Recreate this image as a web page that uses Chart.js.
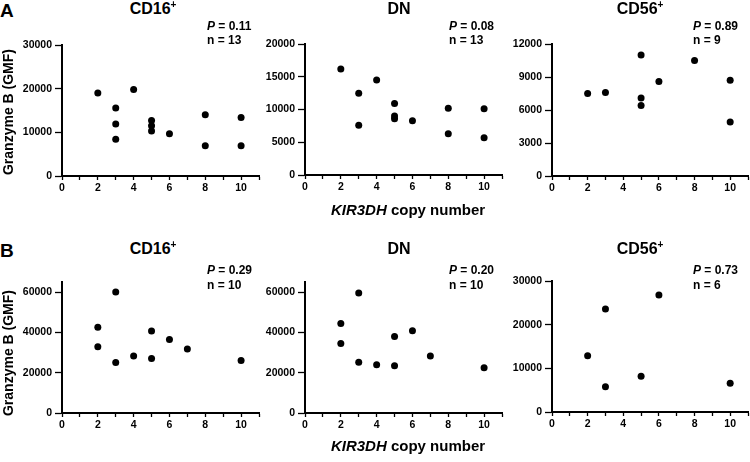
<!DOCTYPE html>
<html>
<head>
<meta charset="utf-8">
<script src="https://cdn.jsdelivr.net/npm/chart.js@4.4.1/dist/chart.umd.min.js"></script>
<style>
  html, body { margin: 0; padding: 0; background: #fff; }
  body { width: 750px; height: 462px; position: relative; overflow: hidden;
         font-family: "Liberation Sans", Arial, sans-serif; font-weight: bold; color: #000; }
  .panel { position: absolute; }
  .t { position: absolute; white-space: nowrap; line-height: 1; }
  .sup { position: relative; top: -6px; font-size: 10px; }
</style>
</head>
<body>
<script>
// --- data ---
// A: KIR3DH copy number vs granzyme B GMF
const copyA_CD16 = [2, 3, 3, 3, 4, 5, 5, 5, 6, 8, 8, 10, 10]
const gzmA_CD16 = [19000, 15600, 11900, 8400, 19800, 12700, 11500, 10300, 9700, 14000, 6900, 13400, 6900]
const copyA_DN = [2, 3, 3, 4, 5, 5, 5, 6, 8, 8, 10, 10]
const gzmA_DN = [16200, 12500, 7600, 14500, 10900, 9000, 8600, 8300, 10200, 6300, 10100, 5700]
const copyA_CD56 = [2, 3, 5, 5, 5, 6, 8, 10, 10]
const gzmA_CD56 = [7500, 7600, 11000, 7100, 6400, 8600, 10500, 8700, 4900]
// B
const copyB_CD16 = [2, 2, 3, 3, 4, 5, 5, 6, 7, 10]
const gzmB_CD16 = [42600, 32900, 60000, 25000, 28300, 40700, 27100, 36500, 31700, 26100]
const copyB_DN = [2, 2, 3, 3, 4, 5, 5, 6, 7, 10]
const gzmB_DN = [44400, 34500, 59500, 25200, 23900, 37900, 23400, 40800, 28300, 22500]
const copyB_CD56 = [2, 3, 3, 5, 6, 10]
const gzmB_CD56 = [12900, 23600, 5800, 8200, 26800, 6600]

const xTicks = [0, 2, 4, 6, 8, 10]
const pValues = ['0.11', '0.08', '0.89', '0.29', '0.20', '0.73']
const nValues = [13, 13, 9, 10, 10, 6]

const font = '"Liberation Sans", Arial, sans-serif'
Chart.defaults.color = '#000'
Chart.defaults.font.family = font
Chart.defaults.font.weight = 'bold'

// plot area rectangles [left, top, right, bottom] plus y axis max / step
const panels = [
  { x: copyA_CD16, y: gzmA_CD16, box: [62, 45, 259, 176], max: 30000, step: 10000 },
  { x: copyA_DN, y: gzmA_DN, box: [305, 44, 502, 175], max: 20000, step: 5000 },
  { x: copyA_CD56, y: gzmA_CD56, box: [552, 44, 748, 176], max: 12000, step: 3000 },
  { x: copyB_CD16, y: gzmB_CD16, box: [62, 282, 259, 413], max: 65000, step: 20000 },
  { x: copyB_DN, y: gzmB_DN, box: [305, 282, 502, 413], max: 65000, step: 20000 },
  { x: copyB_CD56, y: gzmB_CD56, box: [552, 281, 748, 412], max: 30000, step: 10000 }
]

const LEFT = 60
const TOP = 10
const RIGHT = 4
const BOTTOM = 24

panels.forEach(p => {
  const [l, t, r, b] = p.box
  const w = r - l + LEFT + RIGHT
  const h = b - t + TOP + BOTTOM
  const wrap = document.createElement('div')
  wrap.className = 'panel'
  wrap.style.left = (l - LEFT) + 'px'
  wrap.style.top = (t - TOP) + 'px'
  wrap.style.width = w + 'px'
  wrap.style.height = h + 'px'
  const canvas = document.createElement('canvas')
  canvas.width = w
  canvas.height = h
  wrap.appendChild(canvas)
  document.body.appendChild(wrap)

  new Chart(canvas.getContext('2d'), {
    type: 'scatter',
    data: {
      datasets: [{
        data: p.x.map((v, i) => ({ x: v, y: p.y[i] })),
        backgroundColor: '#000',
        borderWidth: 0,
        pointRadius: 3.5,
        pointHoverRadius: 3.5
      }]
    },
    options: {
      responsive: false,
      animation: false,
      events: [],
      layout: { padding: { top: TOP, right: RIGHT, left: 0, bottom: 0 } },
      plugins: { legend: { display: false }, tooltip: { enabled: false } },
      scales: {
        x: {
          type: 'linear',
          min: 0,
          max: 11,
          afterFit: s => { s.height = BOTTOM },
          border: { color: '#000', width: 2 },
          grid: { drawOnChartArea: false, tickLength: 4, color: '#000', tickWidth: 1.3 },
          ticks: {
            stepSize: 1,
            autoSkip: false,
            maxRotation: 0,
            padding: 2,
            font: { size: 10.5, weight: 'bold' },
            callback: v => (xTicks.includes(v) ? String(v) : '')
          }
        },
        y: {
          min: 0,
          max: p.max,
          afterFit: s => { s.width = LEFT },
          afterBuildTicks: s => {
            const ticks = []
            for (let v = 0; v <= p.max; v += p.step) ticks.push({ value: v })
            s.ticks = ticks
          },
          border: { color: '#000', width: 2 },
          grid: { drawOnChartArea: false, tickLength: 7, color: '#000', tickWidth: 1.3 },
          ticks: {
            padding: 3,
            autoSkip: false,
            font: { size: 10.5, weight: 'bold' },
            callback: v => String(v)
          }
        }
      }
    }
  })
})

// --- text ---
function text (html, x, base, size, align, extra) {
  const d = document.createElement('div')
  d.className = 't'
  d.innerHTML = html
  d.style.fontSize = size + 'px'
  d.style.top = (base - 0.8465 * size) + 'px'
  if (align === 'center') {
    d.style.left = (x - 150) + 'px'
    d.style.width = '300px'
    d.style.textAlign = 'center'
  } else {
    d.style.left = x + 'px'
  }
  if (extra) Object.assign(d.style, extra)
  document.body.appendChild(d)
  return d
}

text('A', 0, 17, 19)
text('B', 0, 257, 19)

const titles = ['CD16<span class="sup">+</span>', 'DN', 'CD56<span class="sup">+</span>']
const titleX = [153, 399, 640]
const pX = [207, 449, 693]
const rows = [{ title: 15, p: 30, n: 44, xlab: 215, ylab: 111.5 }, { title: 255, p: 274, n: 289, xlab: 451, ylab: 353 }]

rows.forEach((row, ri) => {
  titleX.forEach((x, ci) => {
    text(titles[ci], x, row.title, 16, 'center')
    const k = ri * 3 + ci
    text('<i>P</i> = ' + pValues[k], pX[ci], row.p, 12)
    text('n = ' + nValues[k], pX[ci], row.n, 12)
  })
  text('<i>KIR3DH</i> copy number', 408, row.xlab, 15, 'center')
  const y = document.createElement('div')
  y.className = 't'
  y.textContent = 'Granzyme B (GMF)'
  Object.assign(y.style, {
    fontSize: '14px', lineHeight: '14px', height: '14px', width: '200px', textAlign: 'center',
    left: (8.2 - 100) + 'px', top: (row.ylab - 7) + 'px', transform: 'rotate(-90deg)'
  })
  document.body.appendChild(y)
})
</script>
</body>
</html>
